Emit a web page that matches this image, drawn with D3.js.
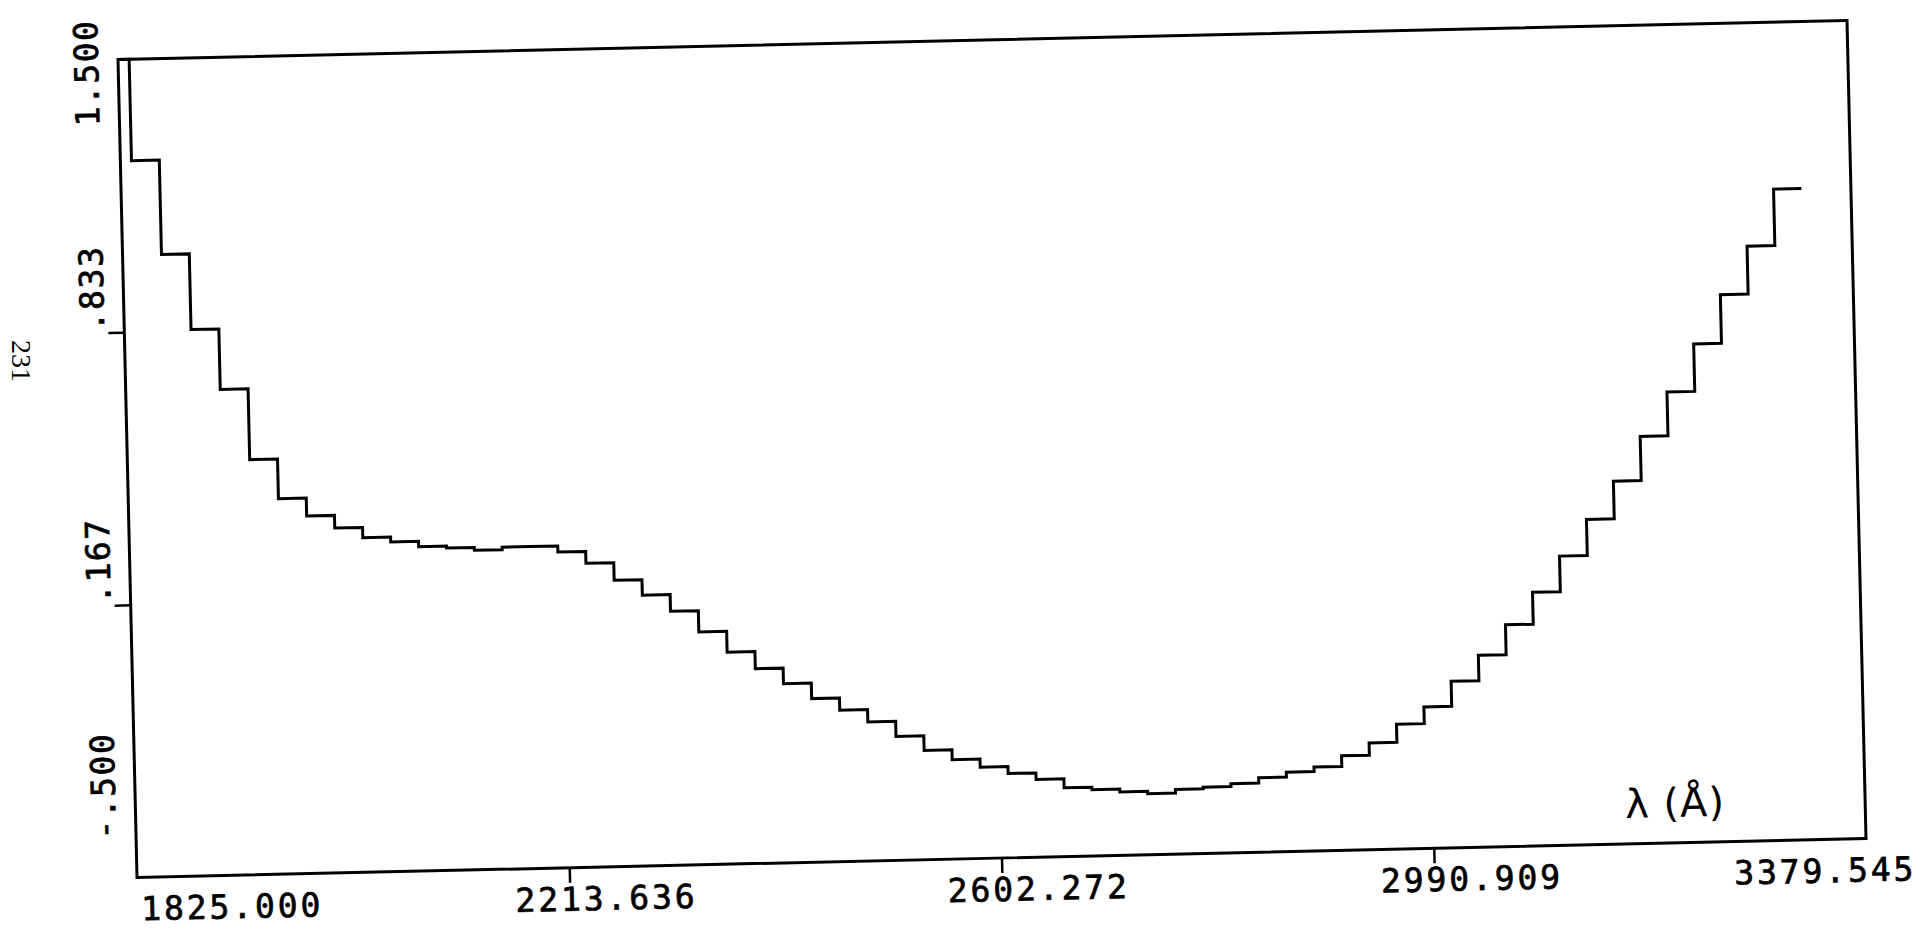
<!DOCTYPE html>
<html>
<head>
<meta charset="utf-8">
<script src="https://cdn.jsdelivr.net/npm/d3@7"></script>
<style>
body { margin: 0; background: #fff; }
svg { display: block; }
.tick text { font-family: "DejaVu Sans Mono", monospace; font-size: 33px; fill: #000; stroke: #000; stroke-width: 0.7px; }
</style>
</head>
<body>
<div id="chart"></div>
<script>
// wavelength bin edges (A) and the plotted value of each bin
var binEdges = [1810, 1835, 1860, 1885, 1910, 1935, 1960, 1985, 2010, 2035, 2060, 2085, 2110, 2135, 2160, 2185,
	2210, 2235, 2260, 2285, 2310, 2335, 2360, 2385, 2410, 2435, 2460, 2485, 2510, 2535, 2560, 2585,
	2610, 2635, 2660, 2685, 2710, 2735, 2760, 2785, 2810, 2835, 2860, 2885, 2910, 2935, 2960, 2985,
	3010, 3035, 3060, 3085, 3110, 3135, 3160, 3185, 3210, 3235, 3260, 3285, 3310, 3335];

var flux = [1.5, 1.252, 1.021, 0.836, 0.688, 0.515, 0.418, 0.374, 0.343, 0.318, 0.306, 0.293, 0.288, 0.281, 0.287, 0.287,
	0.272, 0.243, 0.200, 0.162, 0.121, 0.069, 0.018, -0.024, -0.062, -0.100, -0.130, -0.160, -0.197, -0.233, -0.257, -0.277,
	-0.294, -0.310, -0.332, -0.338, -0.345, -0.351, -0.342, -0.338, -0.331, -0.318, -0.306, -0.295, -0.269, -0.239, -0.195, -0.154,
	-0.093, -0.031, 0.042, 0.120, 0.207, 0.295, 0.387, 0.495, 0.602, 0.718, 0.837, 0.954, 1.092];

var xTicks = [1825, 2213.636, 2602.272, 2990.909, 3379.545];
var xTickLabels = ['1825.000', '2213.636', '2602.272', '2990.909', '3379.545'];
var yTicks = [-0.5, 0.1667, 0.8333, 1.5];
var yTickLabels = ['-.500', '.167', '.833', '1.500'];

// layout (the scan is slightly skewed, so the whole plot sits in a tilted group)
var W = 1729, H = 819;
var xLabelShift = [3, -55, -55, -54, -133];
var yLabelShift = [-39, -2, -2, 66];

var svg = d3.select('#chart').append('svg').attr('width', 1927).attr('height', 929);
svg.append('rect').attr('width', 1927).attr('height', 929).attr('fill', '#fff');

var g = svg.append('g').attr('transform', 'matrix(1,-0.02256,0.0232,0.99878,118,59.5)');

var xScale = d3.scaleLinear().domain([1825, 3379.545]).range([0, W]).clamp(true);
var yScale = d3.scaleLinear().domain([-0.5, 1.5]).range([H, 0]);

var xAxisG = g.append('g')
	.attr('transform', 'translate(0,' + H + ')')
	.call(d3.axisBottom(xScale).tickValues(xTicks).tickSize(15)
		.tickFormat(function(d, i) { return xTickLabels[i]; }));
xAxisG.select('.domain').remove();
xAxisG.selectAll('.tick line')
	.attr('stroke', '#000').attr('stroke-width', 2.5)
	.style('display', function(d, i) { return (i === 0 || i === xTicks.length - 1) ? 'none' : null; });
xAxisG.selectAll('.tick text')
	.attr('text-anchor', 'start')
	.attr('x', function(d, i) { return xLabelShift[i]; })
	.attr('y', 43).attr('dy', 0)
	.style('letter-spacing', '2.9px');

var yAxisG = g.append('g')
	.call(d3.axisLeft(yScale).tickValues(yTicks).tickSize(16)
		.tickFormat(function(d, i) { return yTickLabels[i]; }));
yAxisG.select('.domain').remove();
yAxisG.selectAll('.tick line')
	.attr('stroke', '#000').attr('stroke-width', 2.5)
	.style('display', function(d, i) { return (i === 0 || i === yTicks.length - 1) ? 'none' : null; });
yAxisG.selectAll('.tick text')
	.attr('text-anchor', 'start')
	.attr('x', 0).attr('y', 0).attr('dy', 0)
	.attr('transform', function(d, i) { return 'translate(-20,' + yLabelShift[i] + ') rotate(-90)'; })
	.style('letter-spacing', '1.6px');

// frame
g.append('rect')
	.attr('width', W).attr('height', H)
	.attr('fill', 'none').attr('stroke', '#000').attr('stroke-width', 3);

// step curve
var points = flux.map(function(v, i) { return { lam: binEdges[i], val: v }; });
points.push({ lam: binEdges[binEdges.length - 1], val: flux[flux.length - 1] });

var line = d3.line()
	.x(function(d) { return xScale(d.lam); })
	.y(function(d) { return yScale(d.val); })
	.curve(d3.curveStepAfter);

g.append('path')
	.attr('d', line(points))
	.attr('fill', 'none')
	.attr('stroke', '#000')
	.attr('stroke-width', 3);

// axis title
g.append('text')
	.attr('x', 1489).attr('y', 793)
	.attr('font-family', 'DejaVu Sans')
	.attr('font-size', 40)
	.style('letter-spacing', '1px')
	.text('λ (Å)');

// page number of the scanned page
svg.append('text')
	.attr('transform', 'translate(12,340) rotate(90)')
	.attr('font-family', 'Liberation Serif')
	.attr('font-size', 28)
	.text('231');
</script>
</body>
</html>
